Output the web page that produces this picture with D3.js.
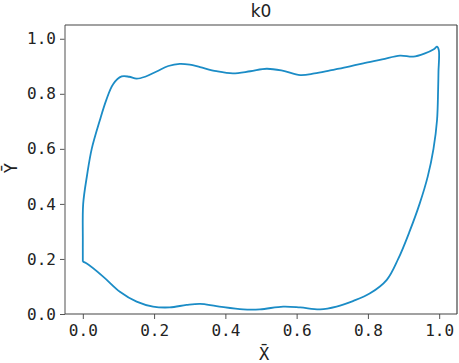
<!DOCTYPE html>
<html>
  <head>
    <meta charset="utf-8">
    <title>k0</title>
    <style>
      body { margin: 0; background: #fff; }
      svg { display: block; }
      .tick text { font-family: "DejaVu Sans Mono", monospace; font-size: 16px; fill: #222; }
      .tick line { stroke: #555; }
      .domain { display: none; }
    </style>
    <script src="https://d3js.org/d3.v7.min.js" charset="utf-8"></script>
  </head>
  <body>
    <svg id="myGraph" width="459" height="363"></svg>
    <script>
      var title = "k0";
      var xTicks = [0.0, 0.2, 0.4, 0.6, 0.8, 1.0];
      var yTicks = [0.0, 0.2, 0.4, 0.6, 0.8, 1.0];

      // closed loop, start at lower left corner, round the top then back along the bottom
      var loopX = [0.0, 0.0, 0.001, 0.012, 0.025, 0.048, 0.066, 0.085, 0.109, 0.13,
                   0.151, 0.175, 0.207, 0.24, 0.272, 0.30, 0.329, 0.375, 0.421, 0.47,
                   0.516, 0.56, 0.61, 0.65, 0.694, 0.74, 0.787, 0.84, 0.89, 0.927,
                   0.96, 0.985, 0.994, 0.999, 0.998, 0.997, 0.994, 0.984, 0.968, 0.945,
                   0.917, 0.885, 0.853, 0.806, 0.758, 0.712, 0.666, 0.61, 0.562, 0.497,
                   0.45, 0.375, 0.329, 0.291, 0.244, 0.197, 0.151, 0.104, 0.057, 0.01, 0.0];
      var loopY = [0.19, 0.27, 0.40, 0.505, 0.60, 0.705, 0.778, 0.835, 0.863, 0.862,
                   0.855, 0.862, 0.881, 0.901, 0.909, 0.906, 0.897, 0.882, 0.874, 0.882,
                   0.891, 0.884, 0.868, 0.874, 0.885, 0.897, 0.911, 0.925, 0.939, 0.935,
                   0.947, 0.962, 0.971, 0.958, 0.88, 0.815, 0.705, 0.60, 0.50, 0.40,
                   0.30, 0.20, 0.124, 0.075, 0.047, 0.027, 0.017, 0.024, 0.027, 0.017,
                   0.017, 0.029, 0.037, 0.033, 0.024, 0.027, 0.045, 0.081, 0.136, 0.184, 0.19];

      (function() {
        var pLeft = 65, pRight = 457, pTop = 25, pBottom = 314;
        var svg = d3.select("#myGraph");

        var x = d3.scaleLinear().domain([-0.05, 1.05]).range([pLeft, pRight]);
        var y = d3.scaleLinear().domain([0, 1.05]).range([pBottom, pTop]);

        var pts = loopX.map(function(d, i) { return [d, loopY[i]]; });

        var line = d3.line()
                     .x(function(d) { return x(d[0]); })
                     .y(function(d) { return y(d[1]); })
                     .curve(d3.curveCatmullRom.alpha(0.5));

        svg.append("path")
           .datum(pts)
           .attr("d", line)
           .attr("fill", "none")
           .attr("stroke", "#1b8cc6")
           .attr("stroke-width", 1.8);

        svg.append("g")
           .attr("transform", "translate(0," + pBottom + ")")
           .call(d3.axisBottom(x).tickValues(xTicks).tickFormat(d3.format(".1f")).tickSize(5).tickPadding(6));

        svg.append("g")
           .attr("transform", "translate(" + pLeft + ",0)")
           .call(d3.axisLeft(y).tickValues(yTicks).tickFormat(d3.format(".1f")).tickSize(5).tickPadding(4));

        // frame
        svg.append("line").attr("x1", pLeft).attr("x2", pLeft).attr("y1", pTop).attr("y2", pBottom)
           .attr("stroke", "#8a8a8a").attr("stroke-width", 1.5);
        svg.append("line").attr("x1", pLeft).attr("x2", pRight).attr("y1", pBottom).attr("y2", pBottom)
           .attr("stroke", "#444").attr("stroke-width", 1.2);
        svg.append("line").attr("x1", pLeft).attr("x2", pRight).attr("y1", pTop).attr("y2", pTop)
           .attr("stroke", "#444").attr("stroke-width", 1.2);
        svg.append("line").attr("x1", pRight).attr("x2", pRight).attr("y1", pTop).attr("y2", pBottom)
           .attr("stroke", "#444").attr("stroke-width", 1.2);

        svg.append("text")
           .attr("x", (pLeft + pRight) / 2)
           .attr("y", 17)
           .attr("text-anchor", "middle")
           .style("font-family", "DejaVu Sans")
           .style("font-size", "17px")
           .attr("fill", "#222")
           .text(title);

        svg.append("text")
           .attr("x", (pLeft + pRight) / 2 + 3)
           .attr("y", 360)
           .attr("text-anchor", "middle")
           .style("font-family", "DejaVu Sans Mono")
           .style("font-size", "17px")
           .attr("fill", "#222")
           .text("X\u0304");

        svg.append("text")
           .attr("transform", "translate(17,168) rotate(-90)")
           .attr("text-anchor", "middle")
           .style("font-family", "DejaVu Sans Mono")
           .style("font-size", "17px")
           .attr("fill", "#222")
           .text("Y\u0304");
      })();
    </script>
  </body>
</html>
